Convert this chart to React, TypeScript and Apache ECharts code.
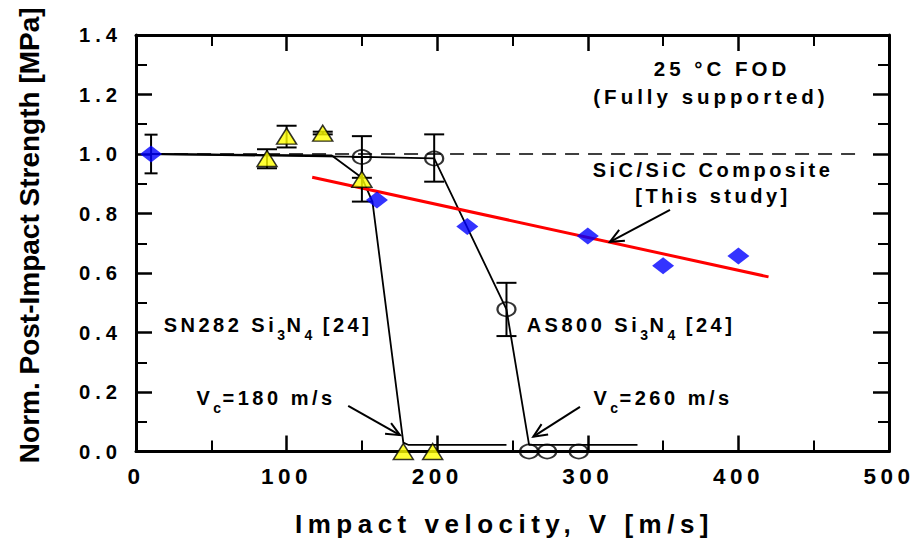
import React, { useEffect, useRef } from 'react';
import * as echarts from 'echarts';

// ---------- data (velocity m/s, normalized post-impact strength) ----------
const sicVelocity = [10, 160, 220, 300, 350, 400];
const sicStrength = [1.0, 0.845, 0.756, 0.724, 0.624, 0.657];
const sicErrors = [[10, 0.935, 1.065]];

const sn282Velocity = [87, 100, 124, 150, 177.5, 197];
const sn282Strength = [0.985, 1.06, 1.07, 0.915, 0, 0];
const sn282Errors = [
  [87, 0.952, 1.016],
  [100, 1.022, 1.095],
  [124, 1.066, 1.075],
  [150, 0.84, 0.99],
];
const sn282Trend = [[10, 1.0], [130, 0.995], [150, 0.92], [157, 0.84], [177.5, 0.03], [181, 0.022], [246, 0.022]];

const as800Velocity = [150, 198, 246, 261, 273, 294];
const as800Strength = [0.99, 0.985, 0.478, 0, 0, 0];
const as800Errors = [
  [150, 0.92, 1.06],
  [198, 0.907, 1.066],
  [246, 0.388, 0.567],
];
const as800Trend = [[10, 1.0], [150, 0.99], [198, 0.985], [246, 0.478], [261, 0.022], [333, 0.022]];

const referenceLine = [[10, 1.0], [480, 1.0]];
const sicFit = [[117, 0.922], [420, 0.587]];

// annotation arrows: [fromX, fromY, toX, toY] in data units
const arrows = [
  [354.6, 0.812, 314.7, 0.705],
  [140.9, 0.153, 175.3, 0.055],
  [294.8, 0.15, 263.8, 0.05],
];

const xTicks = { min: 0, max: 500, interval: 100 };
const yTicks = { min: 0, max: 1.4, interval: 0.2 };

const FONT = '"Liberation Sans", Arial, Helvetica, sans-serif';
// letter spacing by font size (px)
const LS: Record<string, number> = { '20.2': 5, '22.5': 4.5, '20': 3.5, '20.5': 4, '14': 1.5, '26': 5.5 };

let measureCtx: CanvasRenderingContext2D | null = null;
function textWidth(s: string, size: number) {
  if (!measureCtx) measureCtx = document.createElement('canvas').getContext('2d');
  measureCtx!.font = `bold ${size}px "Liberation Sans"`;
  return measureCtx!.measureText(s).width + s.length * (LS[String(size)] || 0);
}

type Piece = { t: string; sub?: boolean };
function richLabel(pieces: Piece[], cx: number, cy: number) {
  const MAIN = 20, SUB = 14;
  const widths = pieces.map((p) => textWidth(p.t, p.sub ? SUB : MAIN));
  const total = widths.reduce((a, b) => a + b, 0);
  let x = cx - total / 2;
  const children: any[] = [];
  pieces.forEach((p, i) => {
    const size = p.sub ? SUB : MAIN;
    const lead = p.t.length - p.t.trimStart().length;
    const leadW = lead ? textWidth(p.t.slice(0, lead), size) : 0;
    children.push({
      type: 'text',
      x: x + leadW,
      y: cy + (p.sub ? 10 : 0),
      style: {
        text: p.t.trim(),
        fontSize: size,
        fontWeight: 'bold',
        fontFamily: FONT,
        fill: '#000',
        align: 'left',
        textAlign: 'left',
        verticalAlign: 'middle',
        textVerticalAlign: 'middle',
      },
    });
    x += widths[i];
  });
  return { type: 'group', children };
}

function plainLabel(text: string, cx: number, cy: number, size: number) {
  return {
    type: 'text',
    x: cx,
    y: cy,
    style: {
      text,
      fontSize: size,
      fontWeight: 'bold',
      fontFamily: FONT,
      fill: '#000',
      align: 'center',
      textAlign: 'center',
      verticalAlign: 'middle',
      textVerticalAlign: 'middle',
    },
  };
}

function errorBarSeries(data: number[][], cap: number) {
  return {
    type: 'custom',
    clip: false,
    z: 3,
    data,
    renderItem: (_p: any, api: any) => {
      const x = api.value(0);
      const lo = api.coord([x, api.value(1)]);
      const hi = api.coord([x, api.value(2)]);
      const style = { stroke: '#000', lineWidth: 2 };
      return {
        type: 'group',
        children: [
          { type: 'line', shape: { x1: lo[0], y1: lo[1], x2: hi[0], y2: hi[1] }, style },
          { type: 'line', shape: { x1: lo[0] - cap / 2, y1: lo[1], x2: lo[0] + cap / 2, y2: lo[1] }, style },
          { type: 'line', shape: { x1: hi[0] - cap / 2, y1: hi[1], x2: hi[0] + cap / 2, y2: hi[1] }, style },
        ],
      };
    },
  };
}

function axisCommon(show: boolean) {
  return {
    axisLine: { show: true, onZero: false, lineStyle: { color: '#000', width: 3 } },
    axisTick: { show: true, inside: true, length: 16, lineStyle: { color: '#000', width: 2.5 } },
    minorTick: { show: true, splitNumber: 2, length: 11, lineStyle: { color: '#000', width: 2 } },
    splitLine: { show: false },
    minorSplitLine: { show: false },
    axisLabel: { show },
  };
}

export default function App() {
  const ref = useRef<HTMLDivElement>(null);

  useEffect(() => {
    document.body.style.margin = '0';
    const el = ref.current!;
    const chart = echarts.init(el, null, { renderer: 'svg' });

    const zip = (a: number[], b: number[]) => a.map((v, i) => [v, b[i]]);

    const option: any = {
      animation: false,
      backgroundColor: '#ffffff',
      grid: { left: 136, right: 25, top: 35, bottom: 95.5, containLabel: false },
      xAxis: [
        {
          type: 'value',
          position: 'bottom',
          ...xTicks,
          ...axisCommon(true),
          axisLabel: {
            show: true,
            color: '#000',
            fontSize: 22.5,
            fontWeight: 'bold',
            fontFamily: FONT,
            margin: 13,
          },
          name: 'Impact velocity, V [m/s]',
          nameLocation: 'middle',
          nameGap: 59,
          nameTextStyle: {
            color: '#000',
            fontSize: 26,
            fontWeight: 'bold',
            fontFamily: FONT,
            padding: [0, 16, 0, 0],
          },
        },
        { type: 'value', position: 'top', ...xTicks, ...axisCommon(false) },
      ],
      yAxis: [
        {
          type: 'value',
          position: 'left',
          ...yTicks,
          ...axisCommon(true),
          axisLabel: {
            show: true,
            color: '#000',
            fontSize: 20.2,
            fontWeight: 'bold',
            fontFamily: FONT,
            margin: 14,
            formatter: (v: number) => v.toFixed(1),
          },
          name: 'Norm. Post-Impact Strength [MPa]',
          nameLocation: 'middle',
          nameGap: 93,
          nameTextStyle: {
            color: '#000',
            fontSize: 28,
            fontWeight: 'bold',
            fontFamily: FONT,
            padding: [0, 0, 0, 16],
          },
        },
        { type: 'value', position: 'right', ...yTicks, ...axisCommon(false) },
      ],
      series: [
        {
          name: 'reference',
          type: 'line',
          data: referenceLine,
          symbol: 'none',
          z: 1,
          lineStyle: { color: '#000', width: 1.5, type: [14, 9] },
        },
        {
          name: 'SN282 trend',
          type: 'line',
          data: sn282Trend,
          symbol: 'none',
          clip: false,
          z: 2,
          lineStyle: { color: '#000', width: 1.8 },
        },
        {
          name: 'AS800 trend',
          type: 'line',
          data: as800Trend,
          symbol: 'none',
          clip: false,
          z: 2,
          lineStyle: { color: '#000', width: 1.8 },
        },
        {
          name: 'SiC/SiC fit',
          type: 'line',
          data: sicFit,
          symbol: 'none',
          z: 2,
          lineStyle: { color: '#ff0000', width: 3 },
        },
        errorBarSeries(sicErrors, 13),
        errorBarSeries(sn282Errors, 20),
        errorBarSeries(as800Errors, 20),
        {
          name: 'AS800 Si3N4 [24]',
          type: 'scatter',
          data: zip(as800Velocity, as800Strength),
          symbol: 'circle',
          symbolSize: [18, 14],
          clip: false,
          z: 4,
          itemStyle: { color: 'rgba(0,0,0,0)', borderColor: '#000', borderWidth: 2 },
        },
        {
          name: 'SN282 Si3N4 [24]',
          type: 'scatter',
          data: zip(sn282Velocity, sn282Strength),
          symbol: 'triangle',
          symbolSize: [20, 16],
          clip: false,
          z: 5,
          itemStyle: { color: '#ffff00', borderColor: '#000', borderWidth: 1.5 },
        },
        {
          name: 'SiC/SiC Composite',
          type: 'scatter',
          data: zip(sicVelocity, sicStrength),
          symbol: 'diamond',
          symbolSize: [22, 17],
          clip: false,
          z: 6,
          itemStyle: { color: '#0000ff' },
        },
        {
          name: 'arrows',
          type: 'custom',
          clip: false,
          z: 7,
          data: arrows,
          renderItem: (_p: any, api: any) => {
            const a = api.coord([api.value(0), api.value(1)]);
            const b = api.coord([api.value(2), api.value(3)]);
            const ang = Math.atan2(b[1] - a[1], b[0] - a[0]);
            const L = 15, spread = 0.42;
            const h1 = [b[0] - L * Math.cos(ang - spread), b[1] - L * Math.sin(ang - spread)];
            const h2 = [b[0] - L * Math.cos(ang + spread), b[1] - L * Math.sin(ang + spread)];
            return {
              type: 'group',
              children: [
                { type: 'line', shape: { x1: a[0], y1: a[1], x2: b[0], y2: b[1] }, style: { stroke: '#000', lineWidth: 2 } },
                { type: 'polyline', shape: { points: [h1, b, h2] }, style: { stroke: '#000', fill: null, lineWidth: 2 } },
              ],
            };
          },
        },
      ],
      graphic: [
        plainLabel('25 °C FOD', 722, 68, 20.5),
        plainLabel('(Fully supported)', 711, 96, 20.5),
        plainLabel('SiC/SiC Composite', 713, 170, 20),
        plainLabel('[This study]', 713, 196, 20),
        richLabel([{ t: 'SN282 Si' }, { t: '3', sub: true }, { t: 'N' }, { t: '4', sub: true }, { t: ' [24]' }], 268, 325),
        richLabel([{ t: 'AS800 Si' }, { t: '3', sub: true }, { t: 'N' }, { t: '4', sub: true }, { t: ' [24]' }], 631, 325),
        richLabel([{ t: 'V' }, { t: 'c', sub: true }, { t: '=180 m/s' }], 266, 397.5),
        richLabel([{ t: 'V' }, { t: 'c', sub: true }, { t: '=260 m/s' }], 663, 397.5),
      ],
    };

    chart.setOption(option);

    const applySpacing = () => {
      el.querySelectorAll('text').forEach((t) => {
        const fs = Math.round(parseFloat(getComputedStyle(t).fontSize) * 10) / 10;
        const sp = LS[String(fs)];
        if (sp) (t as SVGTextElement).style.letterSpacing = sp + 'px';
      });
    };
    applySpacing();
    chart.on('finished', applySpacing);
    const raf = requestAnimationFrame(applySpacing);

    return () => {
      cancelAnimationFrame(raf);
      chart.dispose();
    };
  }, []);

  return <div ref={ref} style={{ width: 914, height: 547, display: 'block' }} />;
}
